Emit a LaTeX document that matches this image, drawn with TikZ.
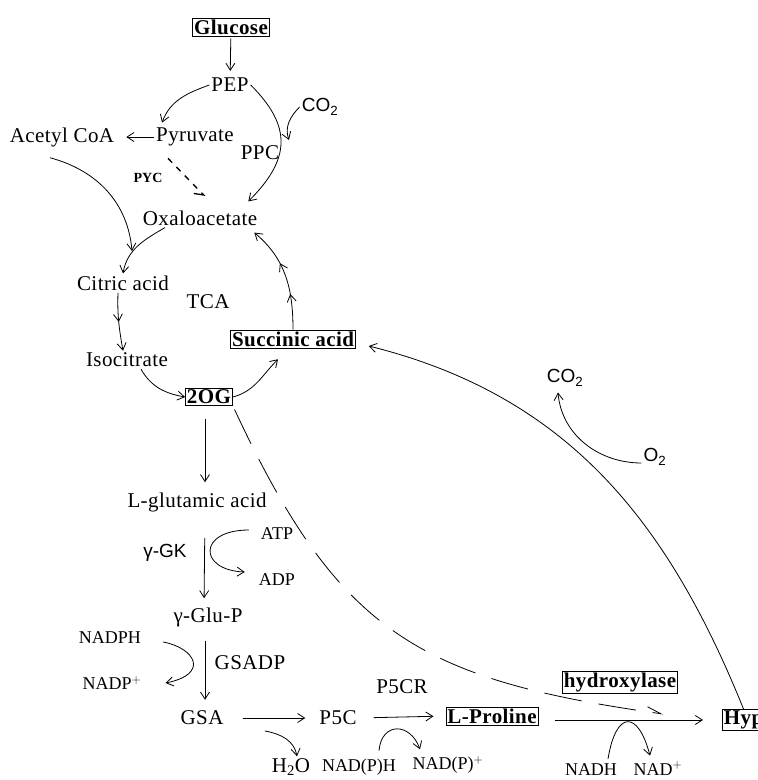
\documentclass[tikz,border=0pt]{standalone}
\usepackage{fontspec}
\setmainfont[LetterSpace=2]{Liberation Serif}
\setsansfont{Liberation Sans}
\newfontfamily\plainserif{Liberation Serif}
\usetikzlibrary{arrows.meta, positioning, decorations.markings}

\begin{document}
\begin{tikzpicture}[
    x=1pt, y=-1pt,
    >={Straight Barb[length=7pt,width=9pt]},
    metab/.style={inner sep=2pt, font=\fontsize{21}{24}\selectfont},
    boxed/.style={rectangle, draw, line width=0.7pt, inner sep=1.5pt, font=\fontsize{21}{24}\selectfont\bfseries},
    cofactor/.style={inner sep=2pt, font=\fontsize{18}{21}\selectfont\plainserif},
    sanslabel/.style={inner sep=2pt, font=\fontsize{19}{22}\selectfont\sffamily},
    arrow/.style={line width=0.8pt, ->},
    pycarrow/.style={line width=1.3pt, dash pattern=on 6pt off 6pt, -{Straight Barb[right,length=8pt,width=12pt]}},
    dasharrow/.style={line width=0.8pt, dash pattern=on 38pt off 17pt, -{Straight Barb[left,length=14pt,width=10pt]}},
    midtip/.style={postaction={decorate}, decoration={markings, mark=at position #1 with {\arrow{>}}}}
]
\useasboundingbox (0,0) rectangle (758,780);

% Glycolysis
\node (glucose) [boxed] at (231,27) {Glucose};
\node (pep) [metab] at (230,85) {PEP};
\node (pyruvate) [metab] at (195,137) {Pyruvate};
\node (acetyl) [metab] at (62,137) {Acetyl CoA};
\node (co2in) [sanslabel] at (320,107) {CO\textsubscript{2}};
\node (ppc) [metab] at (260,153) {PPC};
\node (pyc) [inner sep=1pt, font=\fontsize{14}{16}\selectfont\plainserif\bfseries] at (148,178) {PYC};
\node (oaa) [metab] at (200,218) {Oxaloacetate};

% TCA cycle
\node (citric) [metab] at (123,283) {Citric acid};
\node (tca) [metab] at (208,302) {TCA};
\node (isocit) [metab] at (127,360) {Isocitrate};
\node (twoog) [boxed] at (209,397) {2OG};
\node (succinic) [boxed] at (293,339) {Succinic acid};

% Proline synthesis
\node (glutamic) [metab] at (197,502) {L-glutamic acid};
\node (gk) [sanslabel] at (165,553) {γ-GK};
\node (atp) [cofactor] at (277,534) {ATP};
\node (adp) [cofactor] at (277,580) {ADP};
\node (glup) [metab] at (208,617) {γ-Glu-P};
\node (nadph) [cofactor] at (110,638) {NADPH};
\node (gsadp) [metab] at (250,663) {GSADP};
\node (nadp) [cofactor] at (112,683) {NADP$^{+}$};
\node (gsa) [metab] at (202,718) {GSA};
\node (p5c) [metab] at (338,718) {P5C};
\node (p5cr) [metab] at (402,687) {P5CR};
\node (h2o) [metab] at (291,767) {H\textsubscript{2}O};
\node (nadpmh) [cofactor] at (359,767) {NAD(P)H};
\node (nadpplus) [cofactor] at (448,765) {NAD(P)$^{+}$};
\node (proline) [boxed] at (492,716) {L-Proline};

% Hydroxylation
\node (hydroxylase) [boxed] at (620,682) {hydroxylase};
\node (hyp) [boxed, anchor=west] at (722,720) {Hyp};
\node (nadh) [cofactor, anchor=base] at (591,775) {NADH};
\node (nadplus) [cofactor, anchor=base] at (658,775) {NAD$^{+}$};
\node (co2out) [sanslabel] at (565,378) {CO\textsubscript{2}};
\node (o2) [sanslabel] at (655,457) {O\textsubscript{2}};

\coordinate (ppcjoin) at (289,140);
\coordinate (acjoin) at (132,251);
\coordinate (h2ofrom) at (265,731);
\coordinate (dashend) at (663,714);

% Arrows glycolysis
\draw [arrow, shorten <=2pt, shorten >=5pt] (glucose) -- (pep);
\draw [arrow] (pep.west) to[out=200, in=70] ([xshift=-33pt,yshift=3pt]pyruvate.north);
\draw [arrow] (pep.east) to[out=-45, in=45, looseness=1.3] ([xshift=-11pt,yshift=7pt]oaa.north east);
\draw [arrow] (co2in.west) to[out=225, in=110] (ppcjoin);
\draw [arrow] (pyruvate.west) -- ([xshift=10pt]acetyl.east);
\draw [pycarrow] ([xshift=14pt,yshift=-10pt]pyruvate.south west) -- ([xshift=5pt,yshift=12pt]oaa.north);
\draw [arrow] ([xshift=-12pt,yshift=-9pt]acetyl.south) to[out=-15, in=95] (acjoin);

% Arrows TCA cycle
\draw [arrow] ([xshift=-35pt]oaa.south) to[out=-150, in=80] (citric.north);
\draw [arrow, midtip=0.5] ([xshift=-5pt]citric.south) to[out=-92, in=100] ([xshift=-4pt]isocit.north);
\draw [arrow] ([xshift=14pt]isocit.south) to[out=-60, in=170] (twoog.west);
\draw [arrow] (twoog.east) to[out=15, in=-135] ([xshift=-15pt,yshift=-11pt]succinic.south);
\draw [arrow, postaction={decorate}, decoration={markings,
    mark=at position 0.33 with {\arrow{>}},
    mark=at position 0.63 with {\arrow{>}}}]
    (succinic.north) to[out=90, in=-40] ([xshift=-5pt,yshift=-5pt]oaa.south east);

% Arrows proline synthesis
\draw [arrow, shorten <=13pt, shorten >=8pt] ([xshift=-4pt]twoog.south) -- ([xshift=8pt]glutamic.north);
\draw [arrow, shorten <=24pt, shorten >=7pt] ([xshift=8pt]glutamic.south) -- ([xshift=-4pt]glup.north);
\draw [arrow] ([xshift=-10pt,yshift=4pt]atp.west) .. controls (198,530) and (198,570) .. ([xshift=-12pt,yshift=8pt]adp.west);
\draw [arrow, shorten <=12pt, shorten >=9pt] ([xshift=-3pt]glup.south) -- ([xshift=3pt]gsa.north);
\draw [arrow] ([xshift=20pt,yshift=-4pt]nadph.east) .. controls (195,648) and (210,674) .. ([xshift=22pt]nadp.east);
\draw [arrow, shorten <=17pt, shorten >=12pt] (gsa.east) -- (p5c.west);
\draw [arrow] (h2ofrom) to[out=-10, in=100] ([xshift=6pt]h2o.north);
\draw [arrow, shorten <=15pt, shorten >=12pt] (p5c.east) -- (proline.west);
\draw [arrow] ([xshift=20pt,yshift=6pt]nadpmh.north) to[out=85, in=110, looseness=1.8] ([xshift=-28pt,yshift=5pt]nadpplus.north);

% Arrows hydroxylation
\draw [arrow, shorten <=16pt, shorten >=19pt] ([yshift=-4pt]proline.east) -- (hyp.west);
\draw [arrow] ([xshift=17pt,yshift=2pt]nadh.north) .. controls (616,710) and (638,710) .. ([xshift=-8pt,yshift=4pt]nadplus.north);
\draw [dasharrow, shorten <=4pt] (twoog.south east) to[out=-65, in=172, looseness=1.2] (dashend);
\draw [arrow] (hyp.north) to[out=112, in=-14] ([xshift=13pt,yshift=-7pt]succinic.east);
\draw [arrow] ([yshift=-6pt]o2.west) to[out=180, in=-85] ([xshift=-7pt,yshift=-4pt]co2out.south);

\end{tikzpicture}
\end{document}
